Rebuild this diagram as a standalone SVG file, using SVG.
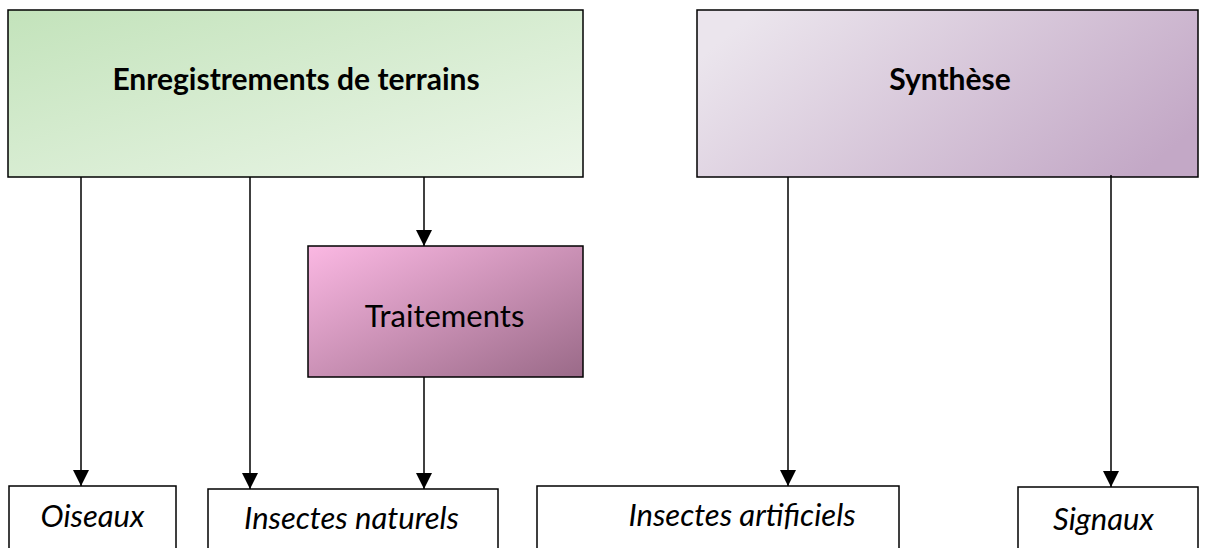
<svg xmlns="http://www.w3.org/2000/svg" width="1209" height="548" viewBox="0 0 1209 548">
<defs>
<linearGradient id="gGreen" x1="0" y1="0" x2="1" y2="1">
<stop offset="0" stop-color="#c3e3bb"/>
<stop offset="1" stop-color="#ecf6e9"/>
</linearGradient>
<linearGradient id="gPurple" x1="0" y1="0.3" x2="1" y2="0.7">
<stop offset="0" stop-color="#ebe5ed"/>
<stop offset="1" stop-color="#c3a8c6"/>
</linearGradient>
<linearGradient id="gPink" x1="0" y1="0" x2="1" y2="1">
<stop offset="0" stop-color="#fbb8e3"/>
<stop offset="1" stop-color="#9a6a88"/>
</linearGradient>
<marker id="arrow" viewBox="0 0 16 16" refX="16" refY="8" markerWidth="16" markerHeight="16" markerUnits="userSpaceOnUse" orient="auto">
<path d="M0,0 L16,8 L0,16 Z" fill="#000"/>
</marker>
</defs>
<style>
.box{stroke:#000;stroke-width:1.5}
.plain{fill:#fff;stroke:#000;stroke-width:1.5}
.title{font-family:Lato,"Liberation Sans",sans-serif;font-weight:bold;font-size:30px;fill:#000;text-anchor:middle}
.reg{font-family:Lato,"Liberation Sans",sans-serif;font-size:31px;fill:#000;text-anchor:middle}
.it{font-family:Lato,"Liberation Sans",sans-serif;font-style:italic;font-size:31px;fill:#000;text-anchor:middle}
.conn{stroke:#000;stroke-width:1.5;fill:none;marker-end:url(#arrow)}
</style>
<g id="node-enregistrements">
<rect class="box" x="8" y="10" width="575" height="167" fill="url(#gGreen)"/>
<text class="title" x="296" y="90">Enregistrements de terrains</text>
</g>
<g id="node-synthese">
<rect class="box" x="697" y="10" width="501" height="167" fill="url(#gPurple)"/>
<text class="title" x="950" y="90">Synthèse</text>
</g>
<g id="node-traitements">
<rect class="box" x="308" y="246" width="275" height="131" fill="url(#gPink)"/>
<text class="reg" x="444.5" y="327">Traitements</text>
</g>
<g id="node-oiseaux">
<rect class="plain" x="9" y="486" width="167" height="80"/>
<text class="it" x="92.5" y="527">Oiseaux</text>
</g>
<g id="node-insectes-naturels">
<rect class="plain" x="208" y="489" width="290" height="80"/>
<text class="it" x="351.5" y="529">Insectes naturels</text>
</g>
<g id="node-insectes-artificiels">
<rect class="plain" x="537" y="486" width="362" height="80"/>
<text class="it" x="742" y="526">Insectes artificiels</text>
</g>
<g id="node-signaux">
<rect class="plain" x="1018" y="487" width="180" height="80"/>
<text class="it" x="1103.5" y="530">Signaux</text>
</g>
<g id="connectors">
<line class="conn" x1="81" y1="177" x2="81" y2="486"/>
<line class="conn" x1="250" y1="177" x2="250" y2="489"/>
<line class="conn" x1="424" y1="177" x2="424" y2="246"/>
<line class="conn" x1="424" y1="377" x2="424" y2="489"/>
<line class="conn" x1="788" y1="177" x2="788" y2="486"/>
<line class="conn" x1="1111" y1="175" x2="1111" y2="487"/>
</g>
</svg>
